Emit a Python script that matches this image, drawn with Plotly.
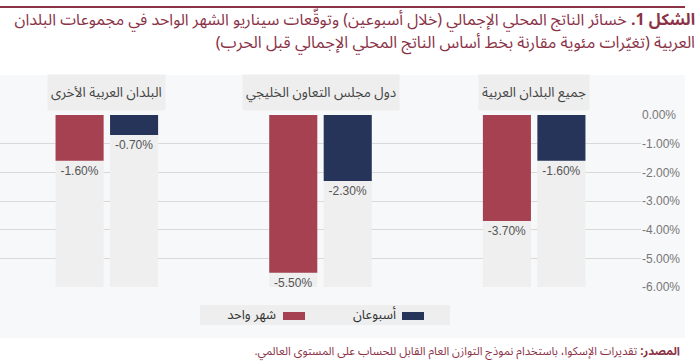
import plotly.graph_objects as go

# ---------------- data ----------------
categories = ["البلدان العربية الأخرى", "دول مجلس التعاون الخليجي", "جميع البلدان العربية"]
series_names = ["شهر واحد", "أسبوعان"]
one_month = [-1.60, -5.50, -3.70]
two_weeks = [-0.70, -2.30, -1.60]
tick_values = [0, -1, -2, -3, -4, -5, -6]
tick_labels = ["0.00%", "-1.00%", "-2.00%", "-3.00%", "-4.00%", "-5.00%", "-6.00%"]
axis_min = -6

title_line1 = "<b>الشكل 1.</b> خسائر الناتج المحلي الإجمالي (خلال أسبوعين) وتوقّعات سيناريو الشهر الواحد في مجموعات البلدان"
title_line2 = "العربية (تغيّرات مئوية مقارنة بخط أساس الناتج المحلي الإجمالي قبل الحرب)\u200f"
source_text = "<b>المصدر:</b> تقديرات الإسكوا، باستخدام نموذج التوازن العام القابل للحساب على المستوى العالمي.\u200f"

# ---------------- style ----------------
RED = "#a64151"
BLUE = "#253458"
MAROON = "#8a3347"
COL_BG = "#efefef"
CHART_BG = "#f7f8fa"
AR_FONT = "Noto Sans Arabic, DejaVu Sans, sans-serif"
NUM_FONT = "Liberation Sans, Arial, sans-serif"

W, H = 700, 363
L, R, T, B = 0, 59, 115, 76
PW = W - L - R
PH = H - T - B


def px_x(px):
    return (px - L) / PW


def px_y(py):
    return (H - B - py) / PH


fig = go.Figure()

# background columns
for grp in ["1", "2"]:
    fig.add_trace(go.Bar(
        x=categories, y=[axis_min] * len(categories), offsetgroup=grp,
        marker=dict(color=COL_BG, line=dict(width=0)),
        hoverinfo="skip", showlegend=False,
    ))

for name, vals, color, grp in [(series_names[0], one_month, RED, "1"),
                               (series_names[1], two_weeks, BLUE, "2")]:
    fig.add_trace(go.Bar(
        x=categories, y=vals, name=name, offsetgroup=grp,
        marker=dict(color=color, line=dict(width=0)),
        text=[f"{v:.2f}%" for v in vals], textposition="outside",
        textfont=dict(family=NUM_FONT, size=12, color="#555555"),
        cliponaxis=False, showlegend=False,
    ))

shapes = [
    # chart background panel
    dict(type="rect", xref="paper", yref="paper", layer="below",
         x0=px_x(0), x1=px_x(685), y0=px_y(338), y1=px_y(75),
         fillcolor=CHART_BG, line=dict(width=0)),
    # top rule
    dict(type="line", xref="paper", yref="paper",
         x0=px_x(0), x1=px_x(685), y0=px_y(7), y1=px_y(7),
         line=dict(color=MAROON, width=2)),
    # legend box
    dict(type="rect", xref="paper", yref="paper",
         x0=px_x(200), x1=px_x(450), y0=px_y(325), y1=px_y(305),
         fillcolor="#eeeeee", line=dict(width=0)),
    # legend swatches
    dict(type="rect", xref="paper", yref="paper",
         x0=px_x(283), x1=px_x(305), y0=px_y(320), y1=px_y(312),
         fillcolor=RED, line=dict(width=0)),
    dict(type="rect", xref="paper", yref="paper",
         x0=px_x(402), x1=px_x(424), y0=px_y(320), y1=px_y(312),
         fillcolor=BLUE, line=dict(width=0)),
]


def right_text(text, right_px, y_px, size, color, width):
    return dict(text=text, xref="paper", yref="paper", x=px_x(right_px), y=px_y(y_px),
                xanchor="right", yanchor="middle", showarrow=False, width=width,
                align="right", font=dict(family=AR_FONT, size=size, color=color))


annotations = [
    right_text(title_line1, 697, 20.5, 16.0, MAROON, 695),
    right_text(title_line2, 697, 43, 16.3, MAROON, 695),
    right_text(source_text, 682, 351, 11.5, MAROON, 680),
    right_text(series_names[0], 278, 315, 13, "#333333", 70),
    right_text(series_names[1], 398, 315, 13, "#333333", 70),
]
for c in categories:
    annotations.append(dict(
        text=c, x=c, xref="x", y=0, yref="y", xanchor="center", yanchor="bottom",
        yshift=4, showarrow=False, bgcolor="#eeeeee", borderpad=3,
        font=dict(family=AR_FONT, size=13.5, color="#444444")))

fig.update_layout(
    width=W, height=H,
    margin=dict(l=L, r=R, t=T, b=B),
    paper_bgcolor="white", plot_bgcolor=CHART_BG,
    barmode="group", bargap=0.49, bargroupgap=0.118,
    shapes=shapes, annotations=annotations,
    xaxis=dict(showticklabels=False, showgrid=False, zeroline=False,
               showline=False, ticks=""),
    yaxis=dict(side="right", range=[axis_min, 0], tickvals=tick_values,
               ticktext=tick_labels, showgrid=True, gridcolor="#d9d9d9",
               gridwidth=1, zeroline=False, showline=False, ticks="",
               tickfont=dict(family=NUM_FONT, size=12, color="#777777")),
    font=dict(family=AR_FONT),
)

fig.write_html("out.html", config={"displayModeBar": False},
               post_script="document.body.style.margin='0';document.body.style.overflow='hidden';")
